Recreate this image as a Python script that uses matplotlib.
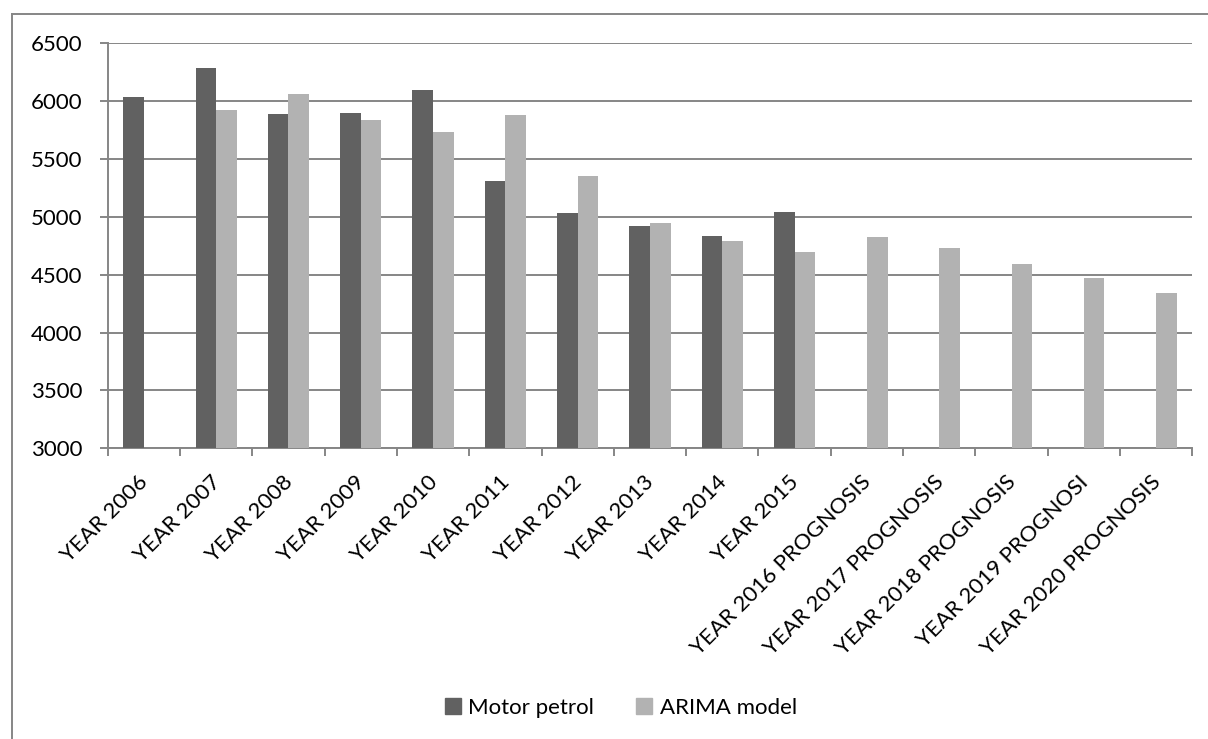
import numpy as np
import matplotlib.pyplot as plt
import matplotlib.transforms as mtransforms
from matplotlib.lines import Line2D
from matplotlib.patches import Patch

plt.rcParams['font.family'] = ['Lato', 'DejaVu Sans']

# Datos
categories = ['YEAR 2006', 'YEAR 2007', 'YEAR 2008', 'YEAR 2009', 'YEAR 2010',
              'YEAR 2011', 'YEAR 2012', 'YEAR 2013', 'YEAR 2014', 'YEAR 2015',
              'YEAR 2016 PROGNOSIS', 'YEAR 2017 PROGNOSIS', 'YEAR 2018 PROGNOSIS',
              'YEAR 2019 PROGNOSI', 'YEAR 2020 PROGNOSIS']
motor_petrol = [6040, 6290, 5887, 5898, 6100, 5308, 5034, 4925, 4838, 5046,
                np.nan, np.nan, np.nan, np.nan, np.nan]
arima_model = [np.nan, 5924, 6062, 5835, 5737, 5883, 5354, 4945, 4793, 4700,
               4830, 4730, 4594, 4470, 4341]
y_ticks = [3000, 3500, 4000, 4500, 5000, 5500, 6000, 6500]

dark = '#616161'
light = '#b2b2b2'
grid_c = '#868686'
fs = 16

fig = plt.figure(figsize=(12.08, 7.39), dpi=100)
ax = fig.add_axes([107.7 / 1208, 1 - 448.3 / 739, (1192.3 - 107.7) / 1208, (448.3 - 43.3) / 739])

x = np.arange(len(categories))
w = 1 / 3.5
ax.bar(x - w / 2, motor_petrol, width=w, color=dark, zorder=3)
ax.bar(x + w / 2, arima_model, width=w, color=light, zorder=3)

ax.set_xlim(-0.5, len(categories) - 0.5)
ax.set_ylim(3000, 6500)
ax.set_yticks(y_ticks)
ax.set_yticklabels([str(v) for v in y_ticks])
ax.yaxis.grid(True, color=grid_c, linewidth=1.4, zorder=0)
ax.set_axisbelow(True)

# marcas del eje x en los límites de las categorías
ax.set_xticks(np.arange(len(categories) + 1) - 0.5)
ax.set_xticklabels([])
ax.set_xticks(x, minor=True)
ax.set_xticklabels(categories, minor=True, rotation=45, ha='right',
                   va='top', rotation_mode='anchor', fontsize=fs)
ax.tick_params(axis='x', which='minor', length=0, pad=17)
ax.tick_params(axis='x', which='major', length=6, width=1.4, color=grid_c)
ax.tick_params(axis='y', length=6, width=1.4, color=grid_c, labelsize=fs, pad=12)

# pequeño desplazamiento a la izquierda de las etiquetas rotadas
shift = mtransforms.ScaledTranslation(-6 / 100, 0, fig.dpi_scale_trans)
for lbl in ax.get_xticklabels(minor=True):
    lbl.set_transform(lbl.get_transform() + shift)

for side in ['top', 'right']:
    ax.spines[side].set_visible(False)
for side in ['left', 'bottom']:
    ax.spines[side].set_color(grid_c)
    ax.spines[side].set_linewidth(1.4)

handles = [Patch(color=dark, label='Motor petrol'), Patch(color=light, label='ARIMA model')]
fig.legend(handles=handles, loc='center', bbox_to_anchor=(621 / 1208, 1 - 708 / 739),
           ncol=2, frameon=False, fontsize=fs, handlelength=0.7, handleheight=0.7,
           handletextpad=0.35, columnspacing=1.9)

# borde del área del gráfico
fig.add_artist(Line2D([12 / 1208, 1], [1 - 14 / 739, 1 - 14 / 739], color=grid_c, linewidth=1.4))
fig.add_artist(Line2D([12 / 1208, 12 / 1208], [0, 1 - 14 / 739], color=grid_c, linewidth=1.4))

plt.savefig('out.png', dpi=100)
plt.close()
